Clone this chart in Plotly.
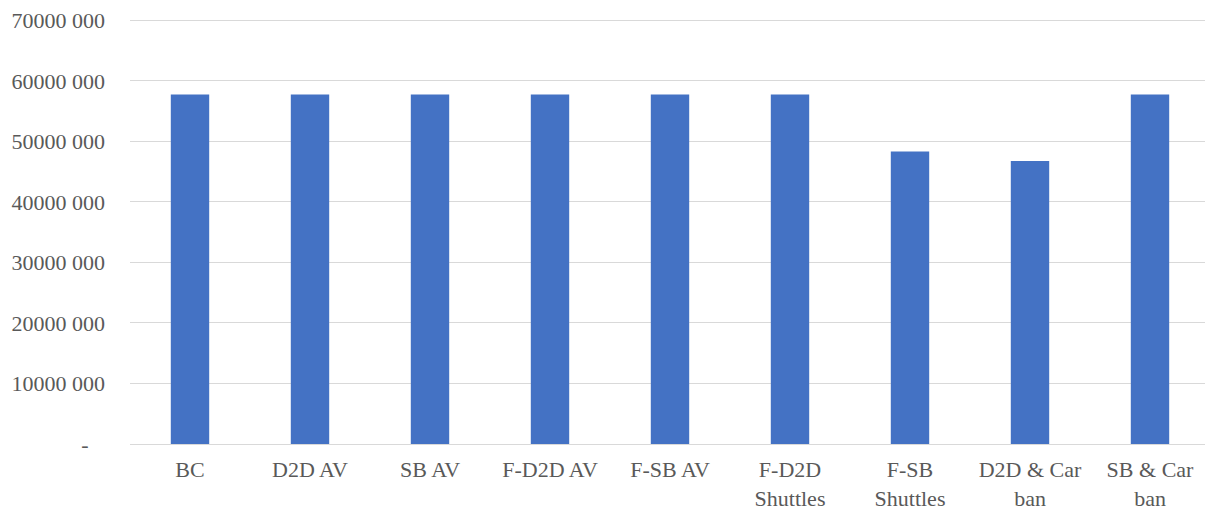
import plotly.graph_objects as go

categories = ["BC", "D2D AV", "SB AV", "F-D2D AV", "F-SB AV",
              "F-D2D<br>Shuttles", "F-SB<br>Shuttles", "D2D & Car<br>ban", "SB & Car<br>ban"]
values = [57750000, 57750000, 57750000, 57750000, 57750000,
          57750000, 48350000, 46750000, 57750000]
tick_vals = [0, 10000000, 20000000, 30000000, 40000000, 50000000, 60000000, 70000000]
tick_text = ["-\u00a0\u00a0\u00a0", "10000 000", "20000 000", "30000 000", "40000 000",
             "50000 000", "60000 000", "70000 000"]

fig = go.Figure(go.Bar(x=categories, y=values, marker=dict(color="#4472C4", line=dict(width=0))))

font = dict(family="Liberation Serif, Times New Roman, serif", size=22, color="#595959")
# page body has an 8px margin, so the figure is offset by (8, 8) in the window
fig.update_layout(
    width=1205, height=503,
    margin=dict(l=122, r=3, t=10, b=67),
    plot_bgcolor="white", paper_bgcolor="white",
    bargap=0.68,
    font=font,
    showlegend=False,
)
fig.update_yaxes(range=[0, 70400000], tickvals=tick_vals, ticktext=tick_text,
                 gridcolor="#D9D9D9", gridwidth=1, zeroline=False, automargin=False,
                 ticklabelstandoff=24, tickfont=font, showline=False)
fig.update_xaxes(showline=True, linecolor="#D9D9D9", linewidth=1, tickfont=font,
                 ticks="", ticklabelstandoff=6, automargin=False)
fig.write_html("out.html")
